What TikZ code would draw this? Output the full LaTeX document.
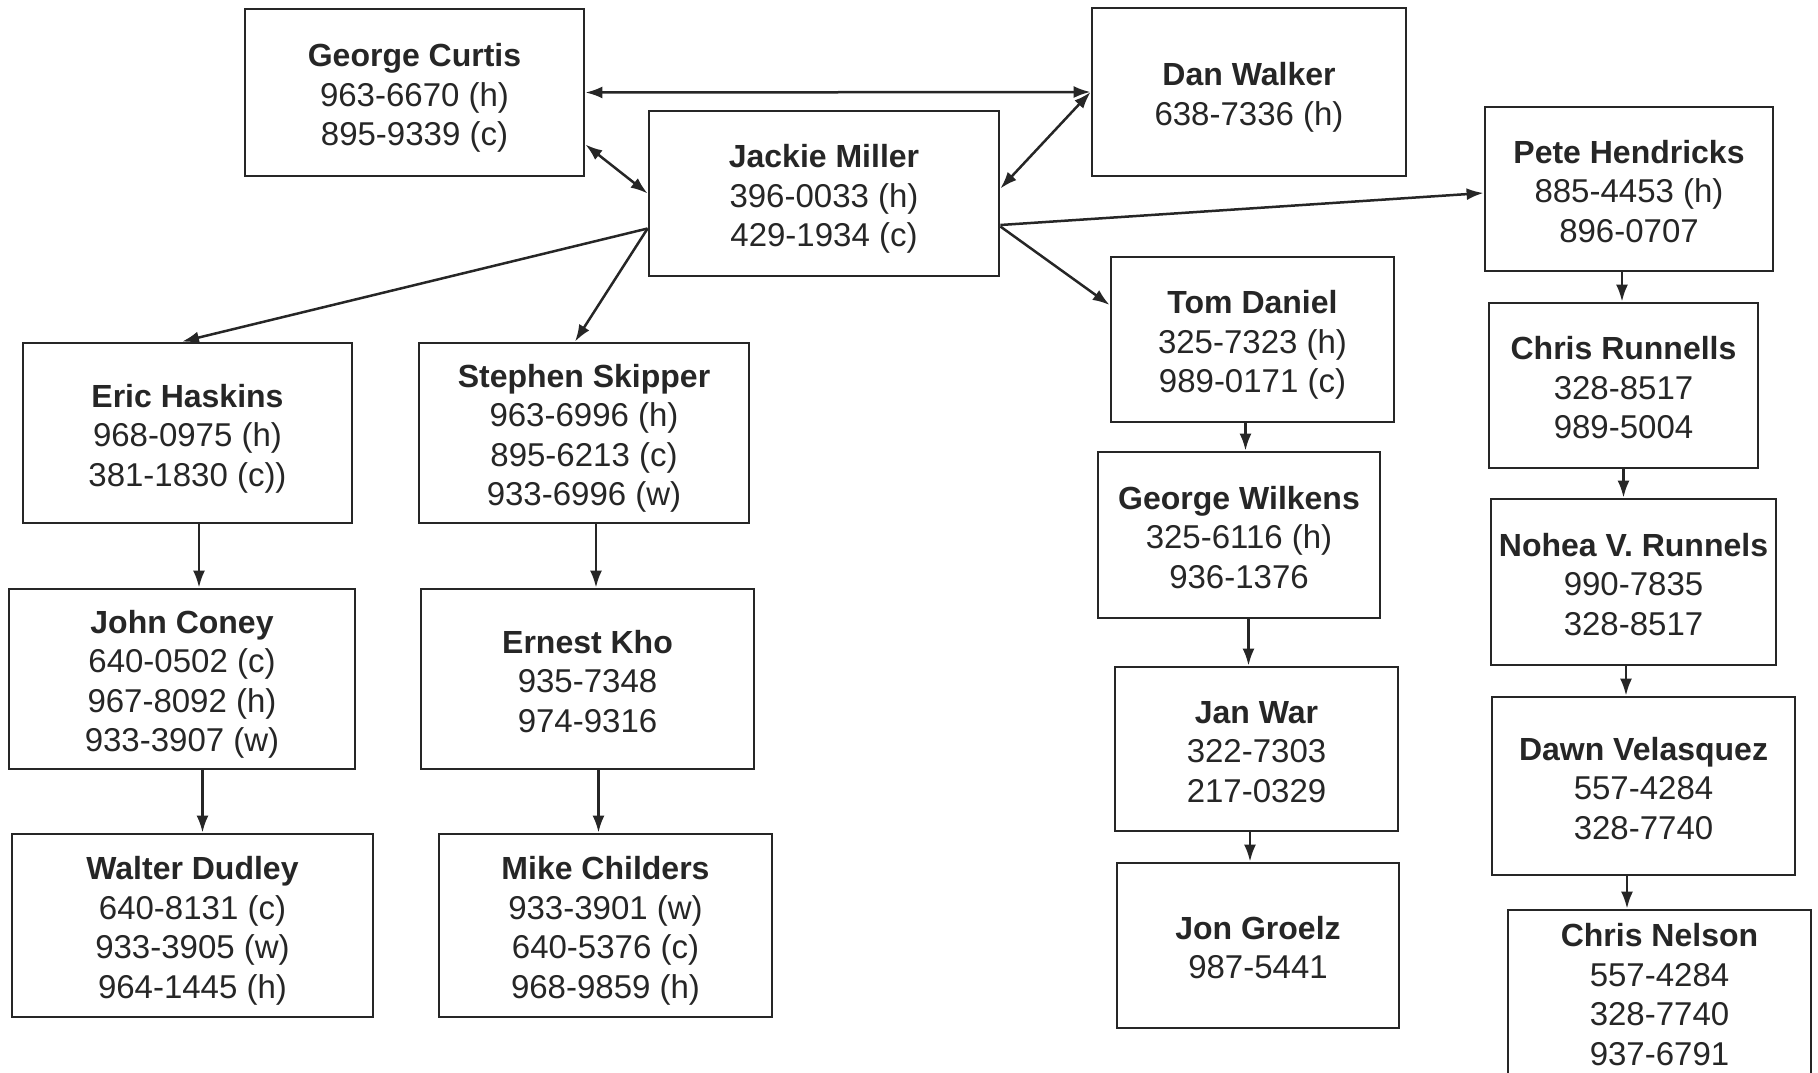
\documentclass[tikz,border=0pt]{standalone}
\usepackage{fontspec}
\setmainfont{Liberation Sans}
\usetikzlibrary{arrows.meta}

% Name fett, Nummern darunter
\newcommand{\entry}[2]{\rule{0pt}{36pt}{\fontsize{32}{39.5}\selectfont\bfseries #1}\\#2\rule[-9pt]{0pt}{9pt}}

\begin{document}
\begin{tikzpicture}[x=1pt,y=-1pt,
        line width=2.5pt,color=black!85,>={Latex[length=17pt,width=12pt]},
        person/.style = {draw,line width=2.8pt,align=center,inner sep=0pt,
                         font=\fontsize{33}{39.5}\selectfont}
        ]
        \useasboundingbox (0,0) rectangle (1818,1073);
        \clip (0,0) rectangle (1818,1073);

        %Oben
        \node[person,minimum width=339pt,minimum height=167pt] (gc) at (414.5,92.5)
            {\entry{George Curtis}{963-6670 (h)\\895-9339 (c)}};
        \node[person,minimum width=314pt,minimum height=168pt] (dw) at (1249,92)
            {\entry{Dan Walker}{638-7336 (h)}};
        \node[person,minimum width=350pt,minimum height=165pt] (jm) at (824,193.5)
            {\entry{Jackie Miller}{396-0033 (h)\\429-1934 (c)}};
        \draw[<->] (gc.east) -- (dw.west);
        \draw[<->] ([yshift=-52pt]gc.east) -- (jm.west);
        \draw[<->] (dw.west) -- ([yshift=5pt]jm.east);

        %Links
        \node[person,minimum width=329pt,minimum height=180pt] (eh) at (187.5,433)
            {\entry{Eric Haskins}{968-0975 (h)\\381-1830 (c))}};
        \node[person,minimum width=346pt,minimum height=180pt] (jc) at (182,679)
            {\entry{John Coney}{640-0502 (c)\\967-8092 (h)\\933-3907 (w)}};
        \node[person,minimum width=361pt,minimum height=183pt] (wd) at (192.5,925.5)
            {\entry{Walter Dudley}{640-8131 (c)\\933-3905 (w)\\964-1445 (h)}};
        \draw[->] ([yshift=-35pt]jm.west) -- ([xshift=-5.5pt]eh.north);
        \draw[->] ([xshift=11.5pt]eh.south) -- ([xshift=11.5pt]eh.south |- jc.north);
        \draw[->] ([xshift=20.5pt]jc.south) -- ([xshift=20.5pt]jc.south |- wd.north);

        %Mitte links
        \node[person,minimum width=330pt,minimum height=180pt] (ss) at (584,433)
            {\entry{Stephen Skipper}{963-6996 (h)\\895-6213 (c)\\933-6996 (w)}};
        \node[person,minimum width=333pt,minimum height=180pt] (ek) at (587.5,679)
            {\entry{Ernest Kho}{935-7348\\974-9316}};
        \node[person,minimum width=333pt,minimum height=183pt] (mc) at (605.5,925.5)
            {\entry{Mike Childers}{933-3901 (w)\\640-5376 (c)\\968-9859 (h)}};
        \draw[->] ([yshift=-35pt]jm.west) -- ([xshift=-9pt]ss.north);
        \draw[->] ([xshift=12pt]ss.south) -- ([xshift=12pt]ss.south |- ek.north);
        \draw[->] ([xshift=11pt]ek.south) -- ([xshift=11pt]ek.south |- mc.north);

        %Mitte rechts
        \node[person,minimum width=283pt,minimum height=165pt] (td) at (1252.5,339.5)
            {\entry{Tom Daniel}{325-7323 (h)\\989-0171 (c)}};
        \node[person,minimum width=282pt,minimum height=166pt] (gw) at (1239,535)
            {\entry{George Wilkens}{325-6116 (h)\\936-1376}};
        \node[person,minimum width=283pt,minimum height=164pt] (jw) at (1256.5,749)
            {\entry{Jan War}{322-7303\\217-0329}};
        \node[person,minimum width=282pt,minimum height=165pt] (jg) at (1258,945.5)
            {\entry{Jon Groelz}{987-5441}};
        \draw[->] ([yshift=-33pt]jm.east) -- ([yshift=34.5pt]td.west);
        \draw[->] ([xshift=-7pt]td.south) -- ([xshift=-7pt]td.south |- gw.north);
        \draw[->] ([xshift=9.5pt]gw.south) -- ([xshift=9.5pt]gw.south |- jw.north);
        \draw[->] ([xshift=-6.5pt]jw.south) -- ([xshift=-6.5pt]jw.south |- jg.north);

        %Rechts
        \node[person,minimum width=288pt,minimum height=164pt] (ph) at (1629,189)
            {\entry{Pete Hendricks}{885-4453 (h)\\896-0707}};
        \node[person,minimum width=269pt,minimum height=165pt] (cr) at (1623.5,385.5)
            {\entry{Chris Runnells}{328-8517\\989-5004}};
        \node[person,minimum width=285pt,minimum height=166pt] (nr) at (1633.5,582)
            {\entry{Nohea V. Runnels}{990-7835\\328-8517}};
        \node[person,minimum width=303pt,minimum height=178pt] (dv) at (1643.5,786)
            {\entry{Dawn Velasquez}{557-4284\\328-7740}};
        \node[person,minimum width=303pt,minimum height=165pt] (cn) at (1659.5,992.5)
            {\entry{Chris Nelson}{557-4284\\328-7740\\937-6791}};
        \draw[->] ([yshift=-31.5pt]jm.east) -- ([yshift=-4pt]ph.west);
        \draw[->] ([xshift=-7pt]ph.south) -- ([xshift=-7pt]ph.south |- cr.north);
        \draw[->] (cr.south) -- (cr.south |- nr.north);
        \draw[->] ([xshift=-7.5pt]nr.south) -- ([xshift=-7.5pt]nr.south |- dv.north);
        \draw[->] ([xshift=-16.5pt]dv.south) -- ([xshift=-16.5pt]dv.south |- cn.north);

\end{tikzpicture}
\end{document}
